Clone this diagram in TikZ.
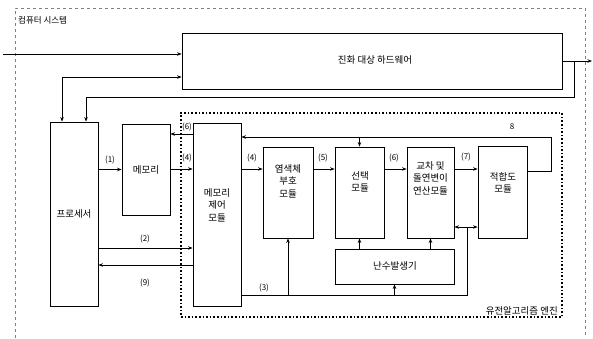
\documentclass[tikz,border=0pt]{standalone}
\usepackage{fontspec}
\setmainfont{Noto Sans CJK KR}
\usetikzlibrary{arrows.meta,calc}
\begin{document}
\begin{tikzpicture}[x=1pt,y=-1pt,
  box/.style={draw, line width=0.8pt, inner sep=0pt},
  txt/.style={align=center, font=\fontsize{9.5}{12.5}\selectfont, inner sep=0pt},
  num/.style={font=\fontsize{8}{9}\selectfont, inner sep=0pt},
  ln/.style={line width=0.8pt},
  arr/.style={line width=0.8pt, -{Stealth[length=4.5pt,width=3.5pt]}},
  darr/.style={line width=0.8pt, {Stealth[length=4.5pt,width=3.5pt]}-{Stealth[length=4.5pt,width=3.5pt]}}]
\useasboundingbox (0,0) rectangle (593,338);
% outer system frame
\draw[gray, dashed, line width=0.6pt] (15,338) -- (15,8) -- (585,8) -- (585,338);
\node[txt, anchor=west, font=\fontsize{8.5}{10}\selectfont] (sys) at (18,20) {컴퓨터 시스템};
% boxes
\node[box, minimum width=380pt, minimum height=56pt] (top) at (372,61) {};
\node[txt] (topT) at (375,60) {진화 대상 하드웨어};
\node[box, minimum width=48pt, minimum height=184pt] (proc) at (74,214) {};
\node[txt] (procT) at (74,214) {프로세서};
\node[box, minimum width=48pt, minimum height=91pt] (mem) at (146,169.5) {};
\node[txt] (memT) at (146,170) {메모리};
% engine frame
\node[draw, dotted, line width=1.6pt, minimum width=381pt, minimum height=204pt, inner sep=0pt] (eng) at (371.5,215) {};
\node[txt, anchor=south east] (engT) at (558,315) {유전알고리즘 엔진};
\node[box, minimum width=48pt, minimum height=183pt] (mcm) at (217,214.5) {};
\node[txt] (mcmT) at (217,205) {메모리\\제어\\모듈};
\node[box, minimum width=50pt, minimum height=91pt] (chr) at (288,192.5) {};
\node[txt] (chrT) at (288,181) {염색체\\부호\\모듈};
\node[box, minimum width=49pt, minimum height=91pt] (sel) at (359.5,192.5) {};
\node[txt] (selT) at (360,182) {선택\\모듈};
\node[box, minimum width=47pt, minimum height=91pt] (cro) at (430.5,192.5) {};
\node[txt] (croT) at (430.5,178) {교차 및\\돌연변이\\연산모듈};
\node[box, minimum width=49pt, minimum height=92pt] (fit) at (502.5,192) {};
\node[txt] (fitT) at (503,183) {적합도\\모듈};
\node[box, minimum width=119pt, minimum height=35pt] (rng) at (394.5,266.5) {};
\node[txt] (rngT) at (395,266) {난수발생기};
% helper rows
\coordinate (inL) at (3,54);
\coordinate (outR) at (592,61);
\coordinate (fbx) at (574,61);
\coordinate (y97) at (0,97);
\coordinate (y77) at (0,77);
\coordinate (y6) at (0,134);
\coordinate (y2) at (0,248);
\coordinate (y9) at (0,265);
\coordinate (y4) at (0,169);
\coordinate (y8) at (0,137);
\coordinate (y8b) at (0,171);
\coordinate (x8) at (551,0);
\coordinate (y3) at (0,295);
\coordinate (x3) at (467,0);
\coordinate (y3b) at (0,227);
\coordinate (xp1) at (62,0);
\coordinate (xp2) at (86,0);
% top connections
\draw[arr] (inL) -- (inL -| top.west);
\draw[arr] (top.east) -- (outR);
\draw[arr] (fbx) -- (fbx |- y97) -- (xp2 |- y97) -- (xp2 |- proc.north);
\draw[darr] (xp1 |- proc.north) -- (xp1 |- y77) -- (top.west |- y77);
% processor / memory / control
\draw[arr] (proc.east |- mem.west) -- (mem.west) node[num, midway, above=5pt] (l1) {(1)};
\draw[arr] (mcm.west |- y6) -- (mem.east |- y6);
\node[num] (l6a) at (187,127) {(6)};
\draw[arr] (mem.east |- y4) -- (mcm.west |- y4);
\node[num] (l4a) at (187,158) {(4)};
\draw[arr] (proc.east |- y2) -- (mcm.west |- y2);
\node[num] (l2) at (145,239) {(2)};
\draw[arr] (mcm.west |- y9) -- (proc.east |- y9);
\node[num] (l9) at (145,283) {(9)};
% pipeline
\draw[arr] (mcm.east |- y4) -- (chr.west |- y4);
\node[num] (l4b) at (252,158) {(4)};
\draw[arr] (chr.east |- y4) -- (sel.west |- y4);
\node[num] (l5) at (323,158) {(5)};
\draw[arr] (sel.east |- y4) -- (cro.west |- y4);
\node[num] (l6b) at (394,158) {(6)};
\draw[arr] (cro.east |- y4) -- (fit.west |- y4);
\node[num] (l7) at (466,157) {(7)};
% feedback 8
\draw[arr] (fit.east |- y8b) -- (x8 |- y8b) -- (x8 |- y8) -- (mcm.east |- y8);
\draw[arr] (sel.north |- y8) -- (sel.north);
\node[num] (l8) at (512,127) {8};
% bus 3
\draw[ln] (mcm.east |- y3) -- (x3 |- y3) -- (x3 |- y3b);
\node[num] (l3) at (264,288) {(3)};
\draw[darr] (cro.east |- y3b) -- (fit.west |- y3b);
\draw[arr] (chr.south |- y3) -- (chr.south);
\draw[arr] (rng.south |- y3) -- (rng.south);
\draw[arr] (sel.south |- rng.north) -- (sel.south);
\draw[arr] (cro.south |- rng.north) -- (cro.south);
\end{tikzpicture}
\end{document}
